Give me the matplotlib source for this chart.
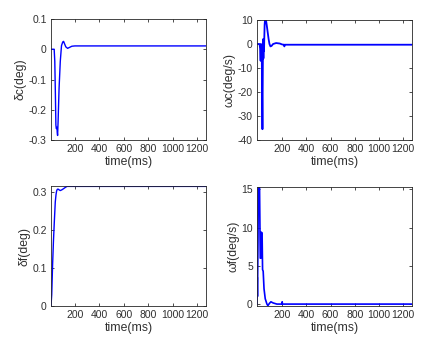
import matplotlib
matplotlib.use("Agg")
import matplotlib.pyplot as plt
import numpy as np

plt.rcParams['font.family'] = ['Liberation Sans', 'DejaVu Sans']

# delta_c (deg)
t_dc = [4, 30, 35, 40, 44, 47, 50, 53, 55, 58, 62, 70, 80, 90, 100, 107, 115, 125, 140, 155, 175, 200, 1273]
v_dc = [0, 0, -0.04, -0.15, -0.25, -0.262, -0.262, -0.258, -0.275, -0.285, -0.24, -0.13, -0.04, 0.012, 0.024, 0.026, 0.018, 0.008, 0.003, 0.006, 0.010, 0.011, 0.011]

# omega_c (deg/s)
t_wc = [-8, 13, 18, 22, 25, 28, 31, 34, 37, 40, 42, 45, 48, 50, 52, 55, 58, 62, 66, 72, 80, 88, 95, 103, 112, 125, 150, 180, 200, 215, 218, 221, 1272]
v_wc = [0, 0, -2, -7, 0, -5, -2, -20, -35.5, -10, 2, -6, 1, -3, 2, 8, 10, 9.5, 10, 8, 5, 2, 0, -1, -0.8, 0, 0.4, 0.2, -0.2, -0.3, -1, -0.3, -0.3]

# delta_f (deg)
t_df = [4, 10, 17, 24, 31, 39, 45, 50, 55, 61, 70, 80, 93, 107, 120, 135, 160, 1273]
v_df = [0, 0.03, 0.108, 0.17, 0.22, 0.273, 0.292, 0.302, 0.306, 0.307, 0.305, 0.303, 0.305, 0.308, 0.311, 0.314, 0.314, 0.314]

# omega_f (deg/s)
t_wf = [-8, -6, -4, 0, 3, 13, 19, 24, 27, 34, 38, 43, 50, 60, 74, 82, 95, 107, 125, 156, 198, 200, 202, 1272]
v_wf = [0, 3.5, 1.0, 8, 15.3, 15.3, 6, 6, 9.4, 9.3, 4.5, 4.3, 2, 0.7, 0, -0.2, 0.1, 0.3, 0.15, 0, 0, 0.3, 0, 0]

xticks = [200, 400, 600, 800, 1000, 1200]

fig = plt.figure(figsize=(4.38, 3.55), dpi=100)
W, H = 438, 355

def make_ax(l, r, t, b):
    return fig.add_axes([l / W, (H - b) / H, (r - l) / W, (b - t) / H])

axes = [
    make_ax(51, 206, 19, 140),
    make_ax(257, 412, 20, 140),
    make_ax(51, 206, 186, 306),
    make_ax(257, 412, 187, 306),
]
data = [(t_dc, v_dc), (t_wc, v_wc), (t_df, v_df), (t_wf, v_wf)]
ylabels = ['δc(deg)', 'ωc(deg/s)', 'δf(deg)', 'ωf(deg/s)']
xlims = [(4, 1273), (-8, 1272), (4, 1273), (-8, 1272)]
ylims = [(-0.3, 0.1), (-40, 10), (0, 0.315), (-0.25, 15.3)]
yticks = [[-0.3, -0.2, -0.1, 0, 0.1], [-40, -30, -20, -10, 0, 10], [0, 0.1, 0.2, 0.3], [0, 5, 10, 15]]
yfmt = [lambda v: ('%g' % v), lambda v: '%d' % v, lambda v: ('%g' % v), lambda v: '%d' % v]
lws = [1.0, 1.3, 1.0, 1.2]

for ax, (t, v), yl, xl, ylim, yt, f, lw in zip(axes, data, ylabels, xlims, ylims, yticks, yfmt, lws):
    ax.plot(t, v, color='#0000ff', lw=lw)
    ax.set_xlim(*xl)
    ax.set_ylim(*ylim)
    ax.set_xticks(xticks)
    ax.set_xticklabels([str(x) for x in xticks])
    ax.set_yticks(yt)
    ax.set_yticklabels([f(y) for y in yt])
    ax.tick_params(direction='in', length=2.5, width=0.6, top=True, right=True,
                   labelsize=7.5, colors='#303030', pad=3)
    for s in ax.spines.values():
        s.set_color('#262626')
        s.set_linewidth(0.6)
    ax.set_xlabel('time(ms)', fontsize=8.8, color='#303030', labelpad=1)
    ax.set_ylabel(yl, fontsize=8.8, color='#303030', labelpad=1.5)

fig.savefig('out.png', dpi=100)
